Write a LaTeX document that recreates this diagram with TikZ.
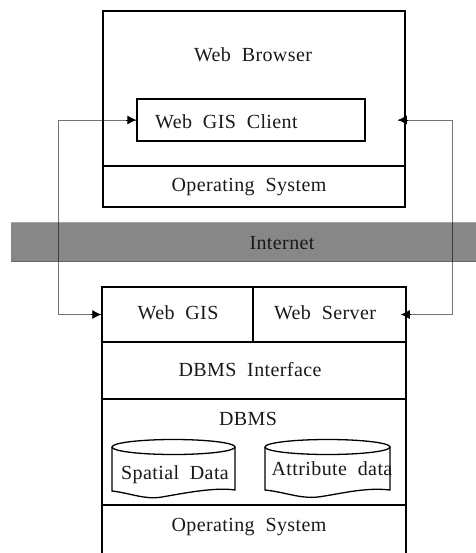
\documentclass[tikz,border=0pt]{standalone}
\usepackage{fontspec}
\setmainfont[LetterSpace=2,WordSpace=2]{Liberation Serif}
\usetikzlibrary{arrows.meta}
\definecolor{bandgray}{HTML}{878787}
\begin{document}
\begin{tikzpicture}[x=1pt,y=-1pt,
  box/.style={draw=black,line width=1.5pt,rectangle,inner sep=0pt},
  lbl/.style={font=\fontsize{20}{22}\selectfont,inner sep=0pt,text=black!90},
  conn/.style={draw=black,opacity=0.55,line width=0.8pt},
  tip/.style={draw=black,line width=0.8pt,-{Latex[length=9pt,width=9pt]}},
  db/.style={draw=black,line width=1.3pt}]
\useasboundingbox (0,0) rectangle (475,553);
% Internet band
\fill[bandgray] (11,222) rectangle (480,262);
\draw[black!35,line width=0.6pt] (11,222.5) -- (480,222.5);
\draw[black!60,line width=0.6pt] (11,261.5) -- (480,261.5);
\node[lbl] (internet) at (282,243) {Internet};
% client side
\node[box,minimum width=302pt,minimum height=155pt] (browser) at (254,88.5) {};
\node[lbl] (browserlbl) at (253,55) {Web Browser};
\node[box,line width=1.3pt,minimum width=228pt,minimum height=42pt] (client) at (251,120) {};
\node[lbl,anchor=west] (clientlbl) at (155,122) {Web GIS Client};
\node[box,minimum width=302pt,minimum height=41pt] (ostop) at (254,186.5) {};
\node[lbl] (ostoplbl) at (249,187) {Operating System};
% server side
\node[box,minimum width=151pt,minimum height=55pt] (webgis) at (177.5,314.5) {};
\node[lbl] (webgislbl) at (178,313) {Web GIS};
\node[box,minimum width=153pt,minimum height=55pt] (webserver) at (329.5,314.5) {};
\node[lbl] (webserverlbl) at (325,313) {Web Server};
\node[box,minimum width=304pt,minimum height=57pt] (dbmsif) at (254,370.5) {};
\node[lbl] (dbmsiflbl) at (250,370) {DBMS Interface};
\node[box,minimum width=304pt,minimum height=106pt] (dbms) at (254,452) {};
\node[lbl] (dbmslbl) at (248,419) {DBMS};
\node[box,minimum width=304pt,minimum height=60pt] (osbot) at (254,535) {};
\node[lbl] (osbotlbl) at (249,527) {Operating System};
% cylinders
\draw[db,fill=white] (112,447) -- (112,491) .. controls (130,493) and (145,500) .. (162,497)
  .. controls (185,493) and (215,487) .. (235,490) -- (235,447);
\draw[db,fill=white] (173.5,447) ellipse [x radius=61.5, y radius=7.5];
\node[lbl] (spatial) at (175,475) {Spatial Data};
\draw[db,fill=white] (265,447) -- (265,490) .. controls (285,492) and (300,499) .. (318,497)
  .. controls (340,494) and (365,487) .. (390,490) -- (390,447);
\draw[db,fill=white] (327.5,447) ellipse [x radius=62.5, y radius=7.5];
\node[lbl] (attribute) at (332,469) {Attribute data};
% connectors
\draw[conn] (webgis.west) -- ++(-43,0) |- (client.west);
\draw[conn] ([xshift=-6pt]webserver.east) -- ++(52,0) |- ([xshift=-8pt]browser.east |- client.west);
\draw[tip] ([xshift=-10pt]client.west) -- (client.west);
\draw[tip] ([xshift=-10pt]webgis.west) -- (webgis.west);
\draw[tip] ([xshift=2pt]browser.east |- client.west) -- ([xshift=-8pt]browser.east |- client.west);
\draw[tip] ([xshift=4pt]webserver.east) -- ([xshift=-6pt]webserver.east);
\end{tikzpicture}
\end{document}
